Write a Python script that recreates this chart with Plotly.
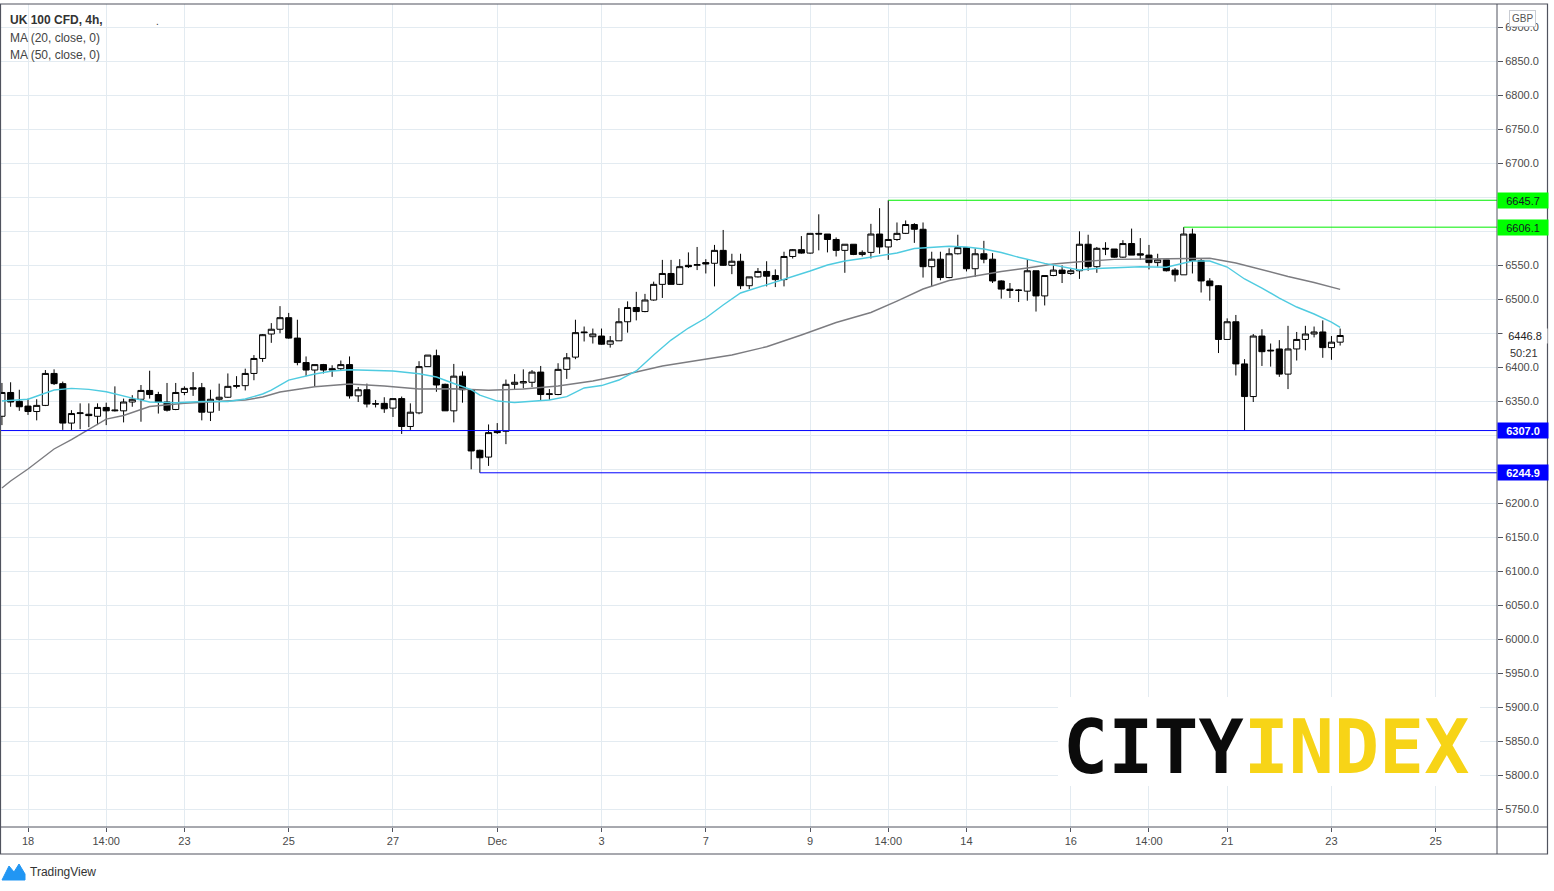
import plotly.graph_objects as go

# ---------------- data ----------------
open_ = [6328,6363,6350,6343,6335,6344,6391,6376,6318,6332,6331,6328,6341,6336,6336,6349,6353,6366,6360,6349,
         6338,6363,6370,6370,6334,6353,6356,6372,6373,6391,6413,6449,6456,6473,6443,6407,6396,6404,6398,6398,
         6404,6358,6367,6346.5,6347,6340,6354,6313,6333,6401,6417,6375,6336,6387,6367,6278,6268,6306,6306,6375,
         6377,6378,6393,6360,6360,6397,6415,6452,6445,6446,6434,6439,6467,6488,6482,6499,6522,6538,6522,6550,
         6550,6554,6553,6572,6550,6556,6520,6533,6541,6535,6529,6563,6573,6568,6597,6596,6588,6572,6581,6566,
         6569,6596,6577,6588,6597,6610,6603,6548,6559,6532,6567,6576,6545,6567,6559,6527,6515,6513,6512,6542,
         6505,6535,6543,6538,6542,6581,6548,6575,6574,6562,6582,6567,6565,6554,6558,6543,6536,6596,6557,6527,
         6520,6441,6467,6405,6357,6446,6424,6427,6390,6427,6441,6449,6452,6429,6437]
high = [6377,6378,6367,6354,6353,6396,6397,6379,6337,6347,6347,6347,6348,6372,6354,6359,6374,6395,6364,6377,
        6377,6372,6393,6377,6367,6376,6391,6387,6398,6418,6449,6465,6490,6480,6470,6416,6404,6405,6403,6410,
        6416,6371,6376,6352,6356,6354,6357,6347,6409,6418,6426,6376,6405,6394,6367,6279,6316,6318,6382,6390,
        6397,6396,6402,6368,6406,6421,6470,6460,6457,6457,6446,6487,6497,6511,6508,6526,6558,6558,6559,6569,
        6577,6559,6580,6602,6567,6567,6533,6546,6556,6544,6570,6574,6593,6597,6625,6596,6591,6581,6581,6572,
        6611,6634,6645.7,6613,6616,6612,6613,6570,6570,6575,6595,6577,6575,6586,6568,6528,6524,6515,6559,6542,
        6535,6550,6550,6546,6600,6595,6577,6584,6574,6587,6604,6590,6580,6567,6558,6546,6606.1,6604,6560,6531,
        6521,6472,6477,6412,6449,6456,6435,6440,6461,6452,6461,6460,6469,6446,6457]
low = [6315,6342,6336,6330,6322,6343,6374,6308,6308,6309,6312,6315,6315,6335,6319,6342,6320,6354,6332,6335,
       6337,6359,6358,6322,6321,6336,6355,6369,6366,6381,6408,6436,6450,6442,6403,6387,6372,6391,6386,6396,
       6354,6349,6341,6341,6333,6327,6302,6308,6331,6401,6364,6336,6319,6348,6250,6244.9,6255,6302,6287,6368,
       6369,6371,6351,6352,6359,6383,6412,6438,6435,6433,6429,6439,6451,6469,6481,6498,6502,6522,6521,6546,
       6543,6538,6519,6549,6537,6515,6515,6532,6519,6518,6519,6560,6567,6567,6572,6569,6563,6539,6565,6563,
       6560,6567,6558,6586,6596,6583,6532,6519,6528,6531,6566,6541,6533,6553,6524,6501,6502,6496,6498,6482,
       6491,6534,6524,6536,6530,6542,6539,6565,6561,6561,6565,6558,6544,6548,6541,6526,6536,6538,6510,6498,
       6421,6441,6388,6307,6349,6402,6401,6386,6368,6410,6425,6444,6414,6411,6432]
close = [6363,6349,6342,6335,6344,6391,6376,6318,6332,6333,6329,6341,6336,6337,6349,6353,6366,6360,6349,6337,
         6363,6369,6368,6334,6353,6356,6372,6373,6391,6413,6448,6456,6473,6443,6407,6396,6404,6396,6396,6404,
         6358,6367,6346,6346,6339,6354,6313,6334,6401,6418,6374,6336,6387,6367,6277,6267,6304,6304,6375,6378,
         6379,6393,6360,6361,6397,6414,6451,6451,6449,6434,6439,6467,6488,6482,6499,6522,6538,6522,6548,6548,
         6551,6552,6572,6550,6556,6520,6533,6541,6534,6529,6563,6573,6568,6597,6596,6588,6572,6581,6566,6569,
         6596,6577,6588,6597,6610,6603,6548,6559,6532,6567,6576,6545,6567,6559,6527,6515,6513,6513.5,6542,6505,
         6535,6543,6538,6542,6581,6548,6575,6574,6562,6582,6565,6565,6554,6558,6542,6536,6596,6557,6527,6520,
         6441,6467,6405,6357,6446,6423,6425,6390,6427,6441,6449,6452,6429,6437,6446.8]
bar_index = list(range(len(close)))

ma20_idx = [0,3,6,8,10,12,15,17,20,23,26,28,30,31,33,36,38,40,43,45,48,50,52,54,55,57,59,61,63,65,67,69,71,73,
            75,77,79,81,83,85,87,89,91,93,95,97,99,101,103,105,107,109,111,113,115,117,120,122,124,126,128,131,
            134,136,137,139,141,143,145,147,149,151,153,154]
ma20_val = [6350.5,6353.0,6366.6,6369.1,6367.6,6364.1,6354.8,6349.0,6347.8,6349.7,6349.7,6353.4,6360.8,6366.6,
            6381.3,6390.2,6394.6,6396.5,6395.3,6394.6,6390.6,6385.7,6376.2,6367.3,6359.2,6350.4,6348.2,6349.7,
            6351.9,6356.8,6369.6,6373.2,6381.3,6394.6,6418.1,6440.1,6457.8,6472.5,6491.6,6509.3,6517.3,6525.4,
            6532.8,6541.6,6550.5,6556.3,6560.0,6563.7,6568.1,6574.7,6575.9,6578.1,6576.9,6574.0,6568.8,6561.8,
            6552.9,6547.9,6543.1,6545.3,6546.5,6547.9,6547.1,6552.6,6556.3,6556.3,6547.5,6529.9,6516.6,6501.9,
            6488.7,6478.4,6466.6,6458.8]
ma50_idx = [0,1,3,6,8,10,12,14,17,21,25,28,30,32,36,40,44,48,52,56,60,64,68,72,76,80,84,88,92,96,100,103,106,
            109,112,115,118,121,124,128,132,136,139,142,145,148,151,154]
ma50_val = [6222.5,6232.8,6250.5,6279.9,6293.8,6308.5,6323.9,6329.1,6342.3,6347.1,6349.4,6351.9,6356.3,6363.7,
            6371.5,6375.5,6372.5,6368.1,6368.5,6366.2,6368.1,6372.5,6379.9,6390.2,6401.9,6410.0,6418.1,6430.3,
            6447.5,6465.9,6480.6,6497.5,6515.2,6527.6,6534.3,6540.9,6546.0,6551.9,6555.3,6558.8,6559.2,6560.3,
            6560.3,6553.4,6543.1,6533.6,6524.7,6514.7]

xtick_idx = [3,12,21,33,45,57,69,81,93,102,111,123,132,141,153,165]
xtick_text = ["18","14:00","23","25","27","Dec","3","7","9","14:00","14","16","14:00","21","23","25"]

level_price = [6645.7, 6606.1, 6307.0, 6244.9]
level_start = [102, 136, None, 55]
level_kind = ["green", "green", "blue", "blue"]
last_price = 6446.8
countdown = "50:21"

# ---------------- layout geometry ----------------
W, H = 1554, 891
PL, PR, PT, PB = 0, 1497, 4, 827          # plot area in pixels
X_RANGE = [-0.222, 172.05]
Y_RANGE = [5724.0, 6934.3]

def px(x):
    return (x - PL) / (PR - PL)

def py(y):
    return (PB - y) / (PB - PT)

FONT = "Liberation Sans, Arial, sans-serif"
TXT = "#4a4a4a"
FRAME = "#50535e"
GRID = "#e3ebf1"

fig = go.Figure()

fig.add_trace(go.Scatter(x=ma50_idx, y=ma50_val, mode="lines",
                         line=dict(color="#7c7c80", width=1.4), hoverinfo="skip", showlegend=False))
fig.add_trace(go.Scatter(x=ma20_idx, y=ma20_val, mode="lines",
                         line=dict(color="#4fcbe0", width=1.4), hoverinfo="skip", showlegend=False))
fig.add_trace(go.Candlestick(
    x=bar_index, open=open_, high=high, low=low, close=close,
    increasing=dict(line=dict(color="black", width=1), fillcolor="white"),
    decreasing=dict(line=dict(color="black", width=1), fillcolor="black"),
    whiskerwidth=0, showlegend=False, hoverinfo="skip"))

shapes = []
annotations = []
colors = {"green": ("#00ee00", "#00ff00", "#131722"), "blue": ("#0000ff", "#0000ff", "#ffffff")}
for price, start, kind in zip(level_price, level_start, level_kind):
    lc, bg, fc = colors[kind]
    x0 = X_RANGE[0] if start is None else start
    shapes.append(dict(type="line", xref="x", yref="y", x0=x0, x1=X_RANGE[1], y0=price, y1=price,
                       line=dict(color=lc, width=1), layer="above"))
    label = f"{price:.1f}" if kind == "green" else f"<b>{price:.1f}</b>"
    annotations.append(dict(xref="paper", yref="y", x=1.0, y=price, xanchor="left", yanchor="middle",
                            text=label, showarrow=False, bgcolor=bg, width=50, height=15,
                            borderpad=0, align="center",
                            font=dict(family=FONT, size=11, color=fc)))
# last price label and countdown
annotations.append(dict(xref="paper", yref="y", x=px(1502), y=last_price, xanchor="left", yanchor="middle",
                        text=f"{last_price:.1f}", showarrow=False, bgcolor="white", width=44, height=14,
                        borderpad=0, align="center", font=dict(family=FONT, size=11, color="#222")))
annotations.append(dict(xref="paper", yref="paper", x=px(1524), y=py(353), xanchor="center", yanchor="middle",
                        text=countdown, showarrow=False, font=dict(family=FONT, size=11, color="#333")))
# GBP currency box
annotations.append(dict(xref="paper", yref="paper", x=px(1522), y=py(19), xanchor="center", yanchor="middle",
                        text="GBP", showarrow=False, bgcolor="white", bordercolor="#c9ccd3", borderwidth=1,
                        borderpad=2, font=dict(family=FONT, size=10, color="#555")))
# legend texts
annotations.append(dict(xref="paper", yref="paper", x=px(8), y=py(20), xanchor="left", yanchor="middle",
                        text="<b>UK 100 CFD, 4h,</b>", showarrow=False, font=dict(family=FONT, size=12, color="#333")))
annotations.append(dict(xref="paper", yref="paper", x=px(154), y=py(21), xanchor="left", yanchor="middle",
                        text=".", showarrow=False, font=dict(family=FONT, size=10, color="#333")))
annotations.append(dict(xref="paper", yref="paper", x=px(8), y=py(38), xanchor="left", yanchor="middle",
                        text="MA (20, close, 0)", showarrow=False, font=dict(family=FONT, size=12, color="#444")))
annotations.append(dict(xref="paper", yref="paper", x=px(8), y=py(55), xanchor="left", yanchor="middle",
                        text="MA (50, close, 0)", showarrow=False, font=dict(family=FONT, size=12, color="#444")))
# City Index logo
shapes.append(dict(type="rect", xref="paper", yref="paper", x0=px(1058), x1=px(1480), y0=py(786), y1=py(697),
                   fillcolor="white", line=dict(width=0), layer="above"))
annotations.append(dict(xref="paper", yref="paper", x=px(1266), y=py(747), xanchor="center", yanchor="middle",
                        text="<b><span style='color:#0b0b0b'>CITY</span><span style='color:#f7d417'>INDEX</span></b>",
                        showarrow=False, font=dict(family="DejaVu Sans Mono", size=75)))
# TradingView footer
annotations.append(dict(xref="paper", yref="paper", x=px(28), y=py(872), xanchor="left", yanchor="middle",
                        text="TradingView", showarrow=False, font=dict(family=FONT, size=12, color="#333")))
icon = "M {a},{b} L {c},{d} L {e},{f} L {g},{h} L {i},{j} L {k},{l} Z".format(
    a=px(2), b=py(880), c=px(9), d=py(866), e=px(14), f=py(872), g=px(19), h=py(864), i=px(25), j=py(874), k=px(25), l=py(880))
shapes.append(dict(type="path", xref="paper", yref="paper", path=icon, fillcolor="#2196f3",
                   line=dict(color="#2196f3", width=1)))
# frame
shapes.append(dict(type="rect", xref="paper", yref="paper", x0=px(0.5), x1=px(1547.5), y0=py(854), y1=py(4),
                   line=dict(color=FRAME, width=1.2), layer="above"))
shapes.append(dict(type="line", xref="paper", yref="paper", x0=px(1497), x1=px(1497), y0=py(854), y1=py(4),
                   line=dict(color=FRAME, width=1), layer="above"))
shapes.append(dict(type="line", xref="paper", yref="paper", x0=px(0), x1=px(1547.5), y0=py(827), y1=py(827),
                   line=dict(color=FRAME, width=1), layer="above"))

hidden = set(round(p / 50) * 50 for p in level_price + [last_price])
ytick_vals = list(range(5750, 6901, 50))
ytick_text = ["" if v in hidden else f"{v:.1f}" for v in ytick_vals]

fig.update_layout(
    width=W, height=H, margin=dict(l=PL, r=W - PR, t=PT, b=H - PB),
    paper_bgcolor="white", plot_bgcolor="white",
    showlegend=False, boxgap=0.3, boxgroupgap=0,
    shapes=shapes, annotations=annotations,
    xaxis=dict(range=X_RANGE, rangeslider=dict(visible=False), tickvals=xtick_idx, ticktext=xtick_text,
               showgrid=True, gridcolor=GRID, gridwidth=1, zeroline=False, showline=False,
               ticks="outside", ticklen=4, tickcolor=FRAME,
               tickfont=dict(family=FONT, size=11, color=TXT)),
    yaxis=dict(range=Y_RANGE, side="right", tickvals=ytick_vals, ticktext=ytick_text,
               showgrid=True, gridcolor=GRID, gridwidth=1, zeroline=False, showline=False,
               ticks="outside", ticklen=5, tickcolor=FRAME,
               tickfont=dict(family=FONT, size=11, color=TXT)),
)

fig.write_html("out.html", config={"displayModeBar": False},
               post_script="document.body.style.margin='0';document.body.style.overflow='hidden';")
